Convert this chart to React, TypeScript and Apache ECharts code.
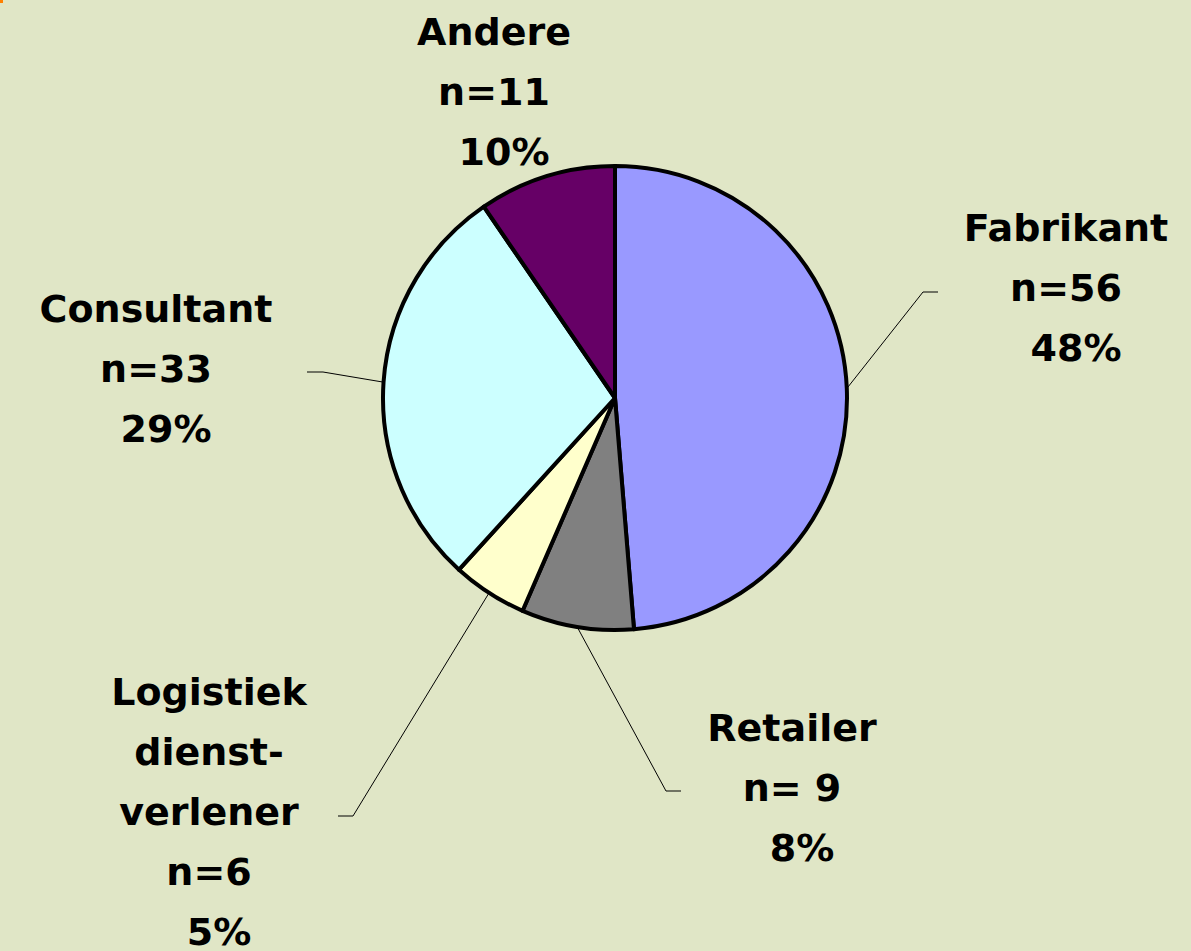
import React, { useEffect, useRef } from "react";
import * as echarts from "echarts";

const categories = ["Fabrikant", "Retailer", "Logistiek dienstverlener", "Consultant", "Andere"];
const nameLines = [["Fabrikant"], ["Retailer"], ["Logistiek", "dienst-", "verlener"], ["Consultant"], ["Andere"]];
const counts = [56, 9, 6, 33, 11];
const countLabels = ["n=56", "n= 9", "n=6", "n=33", "n=11"];
const percentLabels = ["48%", "8%", "5%", "29%", "10%"];
const colors = ["#9999FF", "#808080", "#FFFFCC", "#CCFFFF", "#660066"];

// label placement (layout only)
const labelLayoutCfg = [
  { x: 1066, y: 288, line: [[923, 292], [938, 292]] },
  { x: 792, y: 788, line: [[666, 791], [681, 791]] },
  { x: 209, y: 812, line: [[353, 816], [338, 816]] },
  { x: 156, y: 369, line: [[323, 372], [307, 372]] },
  { x: 494, y: 92, line: null },
];

const CX = 615;
const CY = 398;
const R = 232;

const font = { fontFamily: "DejaVu Sans", fontWeight: "bold" as const, fontSize: 38, lineHeight: 60, color: "#000" };

export default function App() {
  const ref = useRef<HTMLDivElement>(null);
  useEffect(() => {
    if (!ref.current) return;
    const chart = echarts.init(ref.current, null, { renderer: "svg" });
    const total = counts.reduce((a, b) => a + b, 0);
    const mids: number[] = [];
    let acc = 0;
    counts.forEach((c) => {
      mids.push(((acc + c / 2) / total) * 2 * Math.PI);
      acc += c;
    });
    chart.setOption({
      animation: false,
      backgroundColor: "#E0E6C6",
      graphic: [
        { type: "rect", left: 0, top: 0, shape: { width: 3, height: 3 }, style: { fill: "#FF8000" } },
      ],
      series: [
        {
          type: "pie",
          center: [CX, CY],
          radius: R,
          startAngle: 90,
          clockwise: true,
          avoidLabelOverlap: false,
          itemStyle: { borderColor: "#000", borderWidth: 4 },
          label: {
            show: true,
            position: "outside",
            ...font,
            align: "center",
            formatter: (p: any) =>
              [
                ...nameLines[p.dataIndex].map((s) => `{t|${s}}`),
                `{t|${countLabels[p.dataIndex]}}`,
                `{p|${percentLabels[p.dataIndex]}}`,
              ].join("\n"),
            rich: {
              t: { ...font },
              p: { ...font, padding: [0, 0, 0, 20] },
            },
          },
          labelLine: { show: true, lineStyle: { color: "#000", width: 1 } },
          labelLayout: (p: any) => {
            const i = p.dataIndex;
            const L = labelLayoutCfg[i];
            const a = mids[i];
            const start = [CX + R * Math.sin(a), CY - R * Math.cos(a)];
            return {
              x: L.x,
              y: L.y,
              align: "center",
              verticalAlign: "middle",
              labelLinePoints: L.line ? [start, L.line[0], L.line[1]] : undefined,
            };
          },
          data: categories.map((name, i) => ({
            name,
            value: counts[i],
            itemStyle: { color: colors[i] },
            labelLine: { show: labelLayoutCfg[i].line !== null },
          })),
        },
      ],
    });
    return () => chart.dispose();
  }, []);
  return (
    <div
      ref={ref}
      style={{ position: "fixed", left: 0, top: 0, width: 1191, height: 951 }}
    />
  );
}
